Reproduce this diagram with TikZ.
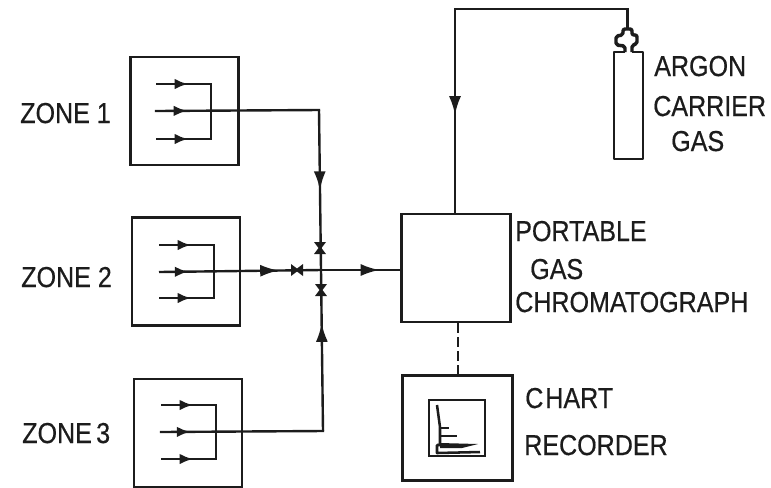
\documentclass[tikz,border=0pt]{standalone}
\usepackage{fontspec}
\setmainfont{Liberation Sans}[FakeBold=0.6]
\usetikzlibrary{arrows.meta,decorations.markings}
\definecolor{ink}{HTML}{1C1C1C}
\newcommand{\tall}[1]{\scalebox{1}[1.15]{#1}}
\tikzset{
  unitbox/.style={draw=ink,line width=2.1pt,minimum width=#1,minimum height=#1,inner sep=0pt,anchor=center},
  conn/.style={draw=ink,line width=1.8pt},
  lab/.style={anchor=base west,inner sep=0pt,text=ink,font=\fontsize{18.8pt}{20pt}\selectfont},
  smalltip/.style={postaction={decorate,decoration={markings,mark=at position #1 with {\arrow[ink]{Latex[length=10pt,width=8pt]}}}}},
  bigtip/.style={postaction={decorate,decoration={markings,mark=at position #1 with {\arrow[ink]{Latex[length=14pt,width=9pt]}}}}},
  valve/.pic={\fill[ink] (-6,-6) -- (6,-6) -- (1.5,0) -- (6,6) -- (-6,6) -- (-1.5,0) -- cycle;}
}
\begin{document}
\begin{tikzpicture}[x=0.75pt,y=-0.75pt]
\useasboundingbox (0,0) rectangle (771,487);
% zone boxes
\node[unitbox=81pt] (zone1) at (184.5,111) {};
\node[unitbox=81pt] (zone2) at (186,271.5) {};
\node[unitbox=81pt] (zone3) at (188,433) {};
% labels
\node[lab] (lz1) at (20,123) {\tall{ZONE 1}};
\node[lab] (lz2) at (21,287) {\tall{ZONE 2}};
\node[lab] (lz3) at (22,443) {\tall{ZONE\kern-2pt\ 3}};
\node[lab] (la1) at (654,76) {\tall{ARGON}};
\node[lab] (la2) at (653,116) {\tall{CARRIER}};
\node[lab] (la3) at (671,151) {\tall{GAS}};
\node[lab] (lg1) at (515,241) {\tall{PORTABLE}};
\node[lab] (lg2) at (530,279) {\tall{GAS}};
\node[lab] (lg3) at (515,312) {\tall{CHROMATOGRAPH}};
\node[lab] (lc1) at (525,408) {\tall{C\kern1.5pt HART}};
\node[lab] (lc2) at (524,455) {\tall{RECORDER}};
% main units
\node[draw=ink,line width=2.1pt,minimum width=82pt,minimum height=81pt,inner sep=0pt] (gc) at (456,268) {};
\node[unitbox=82pt,minimum height=79pt] (chart) at (457.5,428) {};
\node[draw=ink,line width=1.9pt,minimum width=42pt,minimum height=42pt,inner sep=0pt] (trace) at (457,428) {};
% zone manifolds
\foreach \n/\x/\ya/\yb/\yc in {1/156/84/111/139,2/159/245/272/298,3/161/405/432/459}{
  \coordinate (z\n t) at (\x,\ya);
  \coordinate (z\n m) at (\x,\yb);
  \coordinate (z\n b) at (\x,\yc);
  \coordinate (z\n tc) at ({\x+55},\ya);
  \coordinate (z\n bc) at ({\x+55},\yc);
  \draw[conn,smalltip=0.58] (z\n t) -- (z\n tc);
  \draw[conn,smalltip=0.58] (z\n b) -- (z\n bc);
  \draw[conn,line cap=rect] (z\n tc) -- (z\n bc);
}
% junction and outlets
\coordinate (j) at (321,270);
\coordinate (z1turn) at (319,110);
\coordinate (z3turn) at (323,431);
\coordinate (gcin) at (gc.west |- j);
\draw[conn,smalltip=0.19,line cap=rect] (z1m) -- (z1turn);
\draw[conn,bigtip=0.5] (z1turn) -- (j);
\draw[conn,smalltip=0.18,line cap=rect] (z3m) -- (z3turn);
\draw[conn,bigtip=0.67] (z3turn) -- (j);
\draw[conn,smalltip=0.18,bigtip=0.74] (z2m) -- (j);
\draw[conn,bigtip=0.74] (j) -- (gcin);
% valves
\coordinate (v1) at (320,248);
\coordinate (v2) at (297,270);
\coordinate (v3) at (321,290);
\pic at (v1) {valve};
\pic[rotate=90] at (v2) {valve};
\pic at (v3) {valve};
% carrier gas
\coordinate (captop) at (627.5,29);
\coordinate (gasturn) at (627.5,9);
\coordinate (gasleft) at (455,9);
\draw[conn,line join=miter] (captop) -- (gasturn) -- (gasleft);
\draw[conn,bigtip=0.52,line cap=rect] (gasleft) -- (gasleft |- gc.north);
\draw[ink,line width=1.7pt,line join=round]
  (625,52) -- (614,52) -- (614,159) -- (643,159) -- (643,52) -- (632,52);
\draw[ink,line width=2.6pt,line join=round,rounded corners=1.5pt]
  (632,52) -- (632,45) -- (637,44) -- (637,35) -- (632,35) -- (632,29) -- (623,29) -- (623,35) -- (616,36) -- (616,45) -- (625,46) -- (625,52);
% recorder link
\draw[conn,dash pattern=on 7pt off 3.5pt,line width=2pt] (gc.south -| 458,0) -- (chart.north -| 458,0);
% chromatogram
\draw[ink,line width=1.9pt,line join=round] (437,405) -- (440,427) -- (440,445) -- (437,445) -- (437,453) -- (480,452);
\draw[ink,line width=1.9pt] (440,428) -- (449,428);
\draw[ink,line width=1.9pt] (440,436) -- (457,436);
\fill[ink] (440,443) -- (478,444) -- (462,448) -- (440,448) -- cycle;
\end{tikzpicture}
\end{document}
